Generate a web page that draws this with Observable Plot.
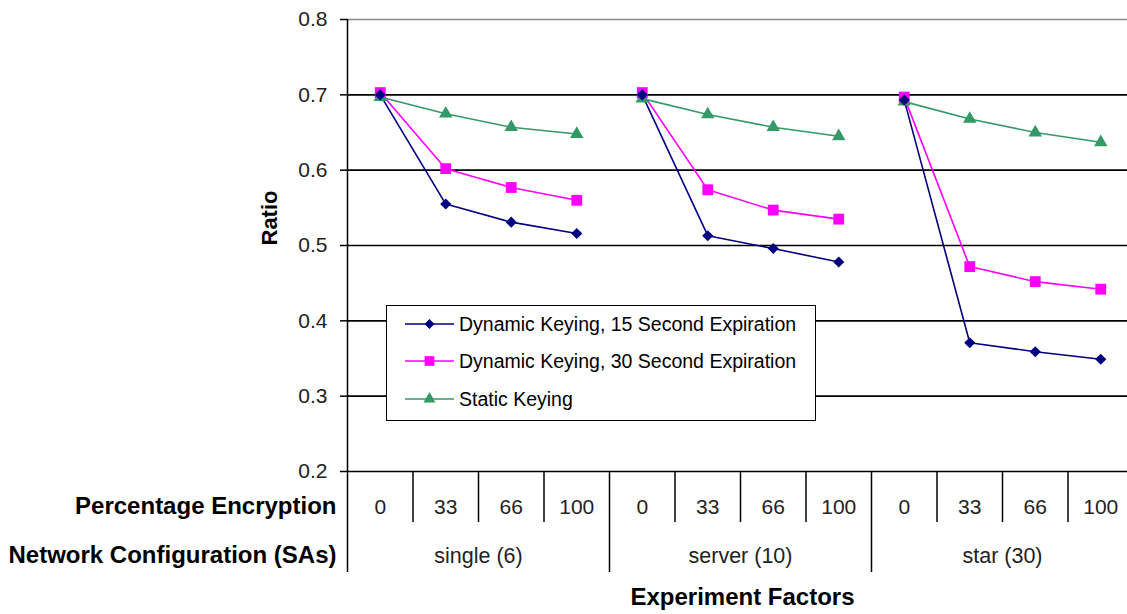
<!DOCTYPE html>
<html>
<head>
<meta charset="utf-8">
<script src="https://cdn.jsdelivr.net/npm/d3@7"></script>
<script src="https://cdn.jsdelivr.net/npm/@observablehq/plot@0.6"></script>
<style>
  html, body { margin: 0; padding: 0; background: #fff; overflow: hidden; }
  #wrap { position: relative; width: 1127px; height: 614px; overflow: hidden; }
  #wrap > svg { max-width: none !important; }
  #legend {
    position: absolute; left: 386px; top: 305px; width: 430px; height: 116px;
    border: 1.5px solid #000; background: #fff; box-sizing: border-box;
    font-family: "Liberation Sans", Arial, sans-serif; font-size: 19.5px; color: #000;
  }
  .row { position: absolute; left: 18px; height: 20px; display: flex; align-items: center; }
  .row svg { display: block; }
  .row span { margin-left: 5px; white-space: nowrap; }
</style>
</head>
<body>
<div id="wrap"></div>
<script>
// ---- data ----
const groups = ["single (6)", "server (10)", "star (30)"];
const percentages = ["0", "33", "66", "100"];
const seriesNames = [
  "Dynamic Keying, 15 Second Expiration",
  "Dynamic Keying, 30 Second Expiration",
  "Static Keying"
];
const dyn15 = [0.700, 0.555, 0.531, 0.516, 0.700, 0.513, 0.496, 0.478, 0.693, 0.371, 0.359, 0.349];
const dyn30 = [0.703, 0.602, 0.577, 0.560, 0.703, 0.574, 0.547, 0.535, 0.697, 0.472, 0.452, 0.442];
const staticKeying = [0.697, 0.675, 0.657, 0.648, 0.695, 0.674, 0.657, 0.645, 0.691, 0.668, 0.650, 0.637];
const yTicks = [0.2, 0.3, 0.4, 0.5, 0.6, 0.7, 0.8];

const colors = ["#000080", "#FF00FF", "#339966"];
const symbols = ["diamond2", "square", "triangle"];
const radii = [5.0, 6.1, 5.0];
const seriesValues = [dyn15, dyn30, staticKeying];

// ---- table ----
const nPer = percentages.length;
const rows = [];
seriesValues.forEach((vals, s) => {
  vals.forEach((v, i) => {
    rows.push({series: seriesNames[s], s, i, group: groups[Math.floor(i / nPer)], pct: percentages[i % nPer], value: v});
  });
});
const cats = d3.range(groups.length * nPer);
const innerDividers = cats.filter(i => (i + 1) % nPer !== 0).map(i => i + 0.5);
const groupDividers = d3.range(groups.length + 1).map(g => g * nPer - 0.5);
const groupCenters = groups.map((g, k) => ({g, x: k * nPer + (nPer - 1) / 2}));

const font = "'Liberation Sans', Arial, sans-serif";

const chart = Plot.plot({
  width: 1133,
  height: 614,
  marginLeft: 347,
  marginRight: 0,
  marginTop: 19,
  marginBottom: 143,
  style: {fontFamily: font, fontSize: "21px", color: "#000", background: "#fff", overflow: "visible", maxWidth: "none"},
  x: {type: "linear", domain: [-0.5, cats.length - 0.5], axis: null},
  y: {domain: [0.2, 0.8], axis: null},
  marks: [
    // gridlines
    Plot.ruleY(yTicks.filter(t => t > 0.2 && t < 0.8), {stroke: "#000", strokeWidth: 1.6}),
    Plot.ruleY([0.8], {stroke: "#8c8c8c", strokeWidth: 1.6}),
    // axes lines
    Plot.ruleY([0.2], {stroke: "#000", strokeWidth: 1.5}),
    Plot.ruleX([-0.5], {y1: 0.2, y2: 0.8, stroke: "#000", strokeWidth: 1.5}),
    Plot.axisY(yTicks, {tickSize: 7, tickPadding: 13, tickFormat: d3.format(".1f"), fontSize: 21, label: null, stroke: "#000", strokeWidth: 1.5, fill: "#222"}),
    // category divider ticks
    Plot.axisX(innerDividers, {tickSize: 51, tickFormat: () => "", label: null, stroke: "#000", strokeWidth: 1.5}),
    Plot.axisX(groupDividers, {tickSize: 101, tickFormat: () => "", label: null, stroke: "#000", strokeWidth: 1.5}),
    // category labels
    Plot.text(cats, {x: d => d, text: d => percentages[d % nPer], frameAnchor: "bottom", dy: 36, lineAnchor: "middle", fontSize: 21, fill: "#222"}),
    Plot.text(groupCenters, {x: "x", text: "g", frameAnchor: "bottom", dy: 85, lineAnchor: "middle", fontSize: 21.5, fill: "#222"}),
    Plot.text(["Percentage Encryption"], {frameAnchor: "bottom-left", dx: -11, dy: 35, textAnchor: "end", lineAnchor: "middle", fontWeight: "bold", fontSize: 24}),
    Plot.text(["Network Configuration (SAs)"], {frameAnchor: "bottom-left", dx: -11, dy: 84, textAnchor: "end", lineAnchor: "middle", fontWeight: "bold", fontSize: 24}),
    Plot.text(["Experiment Factors"], {frameAnchor: "bottom", dx: 2, dy: 126, lineAnchor: "middle", fontWeight: "bold", fontSize: 24}),
    Plot.text(["Ratio"], {frameAnchor: "left", dx: -78, rotate: -90, lineAnchor: "middle", fontWeight: "bold", fontSize: 22}),
    // series
    ...seriesValues.map((_, s) =>
      Plot.line(rows.filter(r => r.s === s), {x: "i", y: "value", z: "group", stroke: colors[s], strokeWidth: 1.6})
    ),
    ...seriesValues.map((_, s) =>
      Plot.dot(rows.filter(r => r.s === s), {x: "i", y: "value", symbol: () => symbols[s], r: radii[s], fill: colors[s], stroke: "none"})
    ).reverse()
  ]
});
chart.style.maxWidth = "none";

const wrap = document.getElementById("wrap");
wrap.appendChild(chart);

// legend
const legend = document.createElement("div");
legend.id = "legend";
const rowTops = [8, 45, 83];
const symMap = {diamond2: d3.symbolDiamond2, square: d3.symbolSquare, triangle: d3.symbolTriangle};
seriesNames.forEach((name, s) => {
  const row = document.createElement("div");
  row.className = "row";
  row.style.top = rowTops[s] + "px";
  const w = 49, h = 20;
  const svg = d3.create("svg").attr("width", w).attr("height", h);
  svg.append("line").attr("x1", 0).attr("x2", w).attr("y1", h / 2).attr("y2", h / 2)
    .attr("stroke", colors[s]).attr("stroke-width", 1.6);
  svg.append("path").attr("transform", `translate(${w / 2},${h / 2})`)
    .attr("d", d3.symbol(symMap[symbols[s]], Math.PI * radii[s] * radii[s] * 0.8)())
    .attr("fill", colors[s]);
  row.appendChild(svg.node());
  const span = document.createElement("span");
  span.textContent = name;
  row.appendChild(span);
  legend.appendChild(row);
});
wrap.appendChild(legend);
</script>
</body>
</html>
